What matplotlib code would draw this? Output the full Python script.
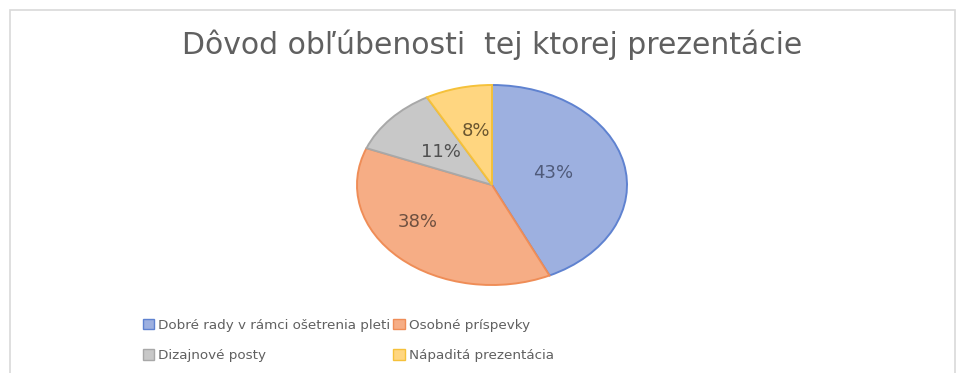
import matplotlib
matplotlib.use("Agg")
import matplotlib.pyplot as plt
from matplotlib.patches import Patch, Rectangle

# Survey data
categories = [
    "Dobré rady v rámci ošetrenia pleti",
    "Osobné príspevky",
    "Dizajnové posty",
    "Nápaditá prezentácia",
]
shares = [43, 38, 11, 8]
pct_labels = ["43%", "38%", "11%", "8%"]
title = "Dôvod obľúbenosti  tej ktorej prezentácie"

# Styling
fill_colors = ["#9db0e0", "#f6ad85", "#c8c8c8", "#ffd680"]
edge_colors = ["#5f82d0", "#ef8d57", "#a8a8a8", "#f5c13a"]
label_colors = ["#4f5a7a", "#6e5040", "#505050", "#6a5630"]
# label anchor points inside the pie (axes data units)
label_pos = [(0.45, 0.12), (-0.55, -0.37), (-0.38, 0.33), (-0.12, 0.54)]

W, H = 958, 373
fig = plt.figure(figsize=(W / 100, H / 100), dpi=100)
fig.patch.set_facecolor("white")

# outer chart frame
fig.add_artist(Rectangle((10 / W, -0.05), (955 - 10) / W, 1.05 - 10 / H,
                         transform=fig.transFigure, fill=False,
                         edgecolor="#d9d9d9", linewidth=1.2))

# pie axes (stretched horizontally)
cx, cy, rx, ry = 492, 185, 135, 100
ax = fig.add_axes([(cx - rx) / W, (H - cy - ry) / H, 2 * rx / W, 2 * ry / H])
wedges, _ = ax.pie(shares, colors=fill_colors, startangle=90,
                   counterclock=False, radius=1.0,
                   wedgeprops=dict(linewidth=1.4))
for w, ec in zip(wedges, edge_colors):
    w.set_edgecolor(ec)
ax.set_aspect("auto")
ax.set_xlim(-1.0, 1.0)
ax.set_ylim(-1.0, 1.0)
ax.axis("off")

for txt, (x, y), c in zip(pct_labels, label_pos, label_colors):
    ax.text(x, y, txt, ha="center", va="center", fontsize=13, color=c)

fig.text(492 / W, 1 - 45 / H, title, ha="center", va="center",
         fontsize=21.5, color="#606060")

# legend: row-major order across two columns
handles = [Patch(facecolor=f, edgecolor=e, linewidth=1.0)
           for f, e in zip(fill_colors, edge_colors)]
order = [0, 2, 1, 3]
leg = fig.legend([handles[i] for i in order], [categories[i] for i in order],
                 ncol=2, loc="upper left",
                 bbox_to_anchor=(136 / W, 1 - 312 / H),
                 frameon=False, fontsize=9.7, labelcolor="#606060",
                 handlelength=0.85, handleheight=0.85, handletextpad=0.3,
                 columnspacing=0.2, labelspacing=1.3, borderpad=0.0)

fig.savefig("out.png", dpi=100, facecolor="white")
